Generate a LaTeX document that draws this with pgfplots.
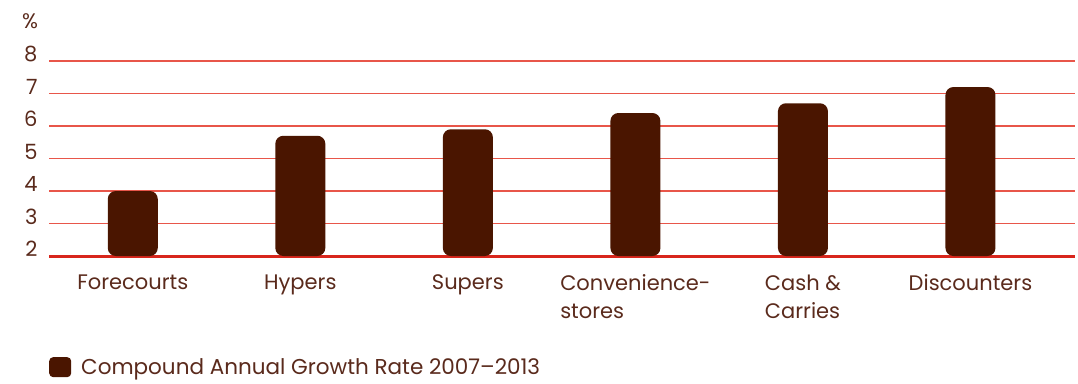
\documentclass[border=0pt]{standalone}
\usepackage{pgfplots}
\pgfplotsset{compat=1.18}
\usepackage{fontspec}
\setmainfont{Poppins}
\definecolor{barc}{HTML}{4A1500}
\definecolor{txt}{HTML}{5A2A1C}
\definecolor{grd}{HTML}{E8564A}
\definecolor{basec}{HTML}{D8261C}
\begin{document}
\begin{tikzpicture}
\useasboundingbox (0,0) rectangle (1078pt,383pt);
\begin{axis}[
  at={(49pt,127pt)}, anchor=south west,
  scale only axis, width=1026pt, height=195pt,
  xmin=-0.5, xmax=5.624, ymin=0, ymax=6,
  ybar, bar width=50pt,
  y filter/.expression={y-2},
  xtick={0,1,2,3,4,5},
  xticklabels={Forecourts, Hypers, Supers, {Convenience-\\stores}, {Cash \&\\Carries}, Discounters},
  ytick={0,1,2,3,4,5,6}, yticklabels={2,3,4,5,6,7,8},
  ymajorgrids, major grid style={grd, line width=1.3pt},
  axis line style={draw=none},
  major tick length=0pt,
  /pgf/number format/assume math mode=true,
  tick label style={font=\fontsize{21}{28}\selectfont, text=txt},
  yticklabel style={anchor=east, xshift=-8pt, yshift=7pt},
  xticklabel style={align=left, anchor=north, yshift=-15pt},
  legend style={at={(0,-0.57)}, anchor=west, draw=none, inner xsep=0pt,
    font=\fontsize{21.5}{25}\selectfont, text=txt, column sep=8pt},
  legend cell align=left,
  legend image code/.code={\fill[barc, rounded corners=4pt] (0pt,-10pt) rectangle (22pt,10pt);},
  clip=false,
]
\draw[basec, line width=3pt] (rel axis cs:0,0) -- (rel axis cs:1,0);
\addplot[fill=barc, draw=none, rounded corners=8pt] coordinates {
  (0,4.0) (1,5.7) (2,5.9) (3,6.4) (4,6.7) (5,7.2)
};
\addlegendentry{Compound Annual Growth Rate 2007–2013}
\end{axis}
\node[text=txt, font=\fontsize{21}{25}\selectfont] at (30pt,362pt) {\%};
\end{tikzpicture}
\end{document}
